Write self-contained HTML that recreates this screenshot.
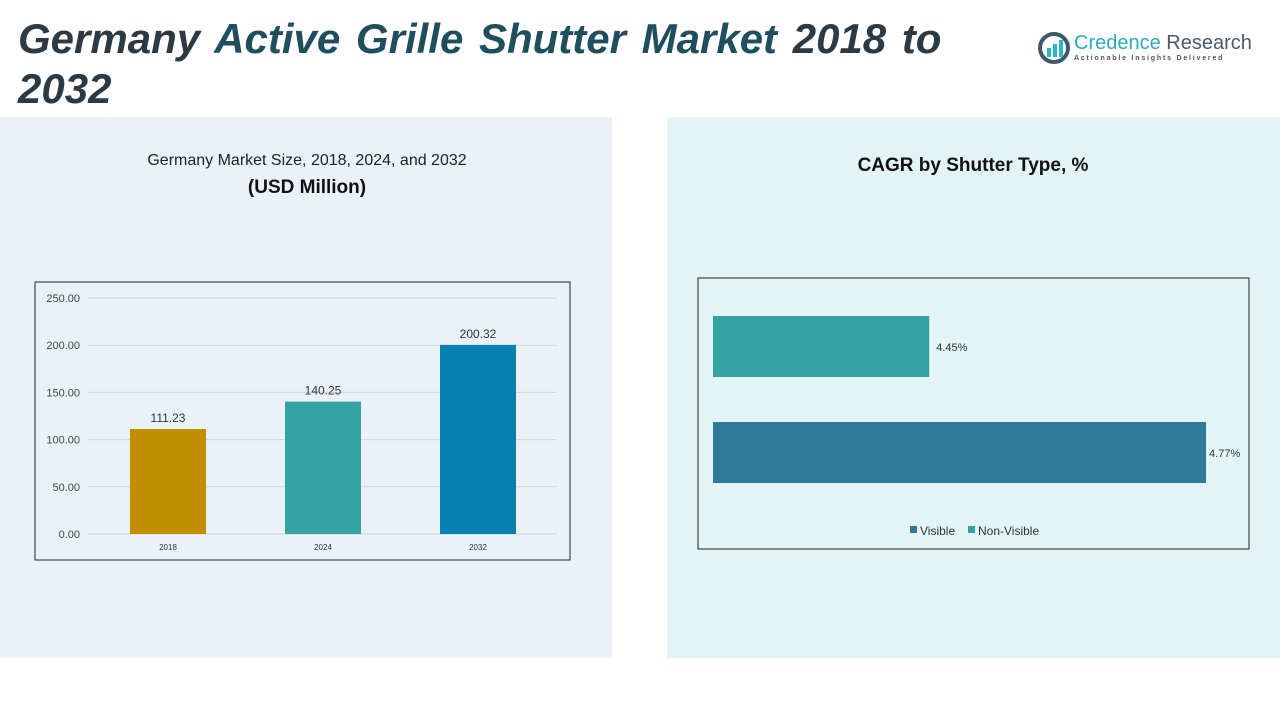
<!DOCTYPE html>
<html><head><meta charset="utf-8"><style>
body{margin:0;width:1280px;height:720px;background:#fff;position:relative;overflow:hidden;font-family:"Liberation Sans",sans-serif}
.abs{position:absolute}
</style></head><body>
<div class="abs" style="left:0;top:117px;width:612px;height:541px;background:#eaf2f8"></div>
<div class="abs" style="left:667px;top:117px;width:613px;height:541px;background:#e3f4f4"></div>
<div class="abs" style="left:18px;top:14px;width:980px;font-size:42px;font-weight:bold;font-style:italic;color:#2b3a44;line-height:50px;word-spacing:4px">Germany <span style="color:#1f4e5f">Active Grille Shutter Market</span> 2018 to 2032</div>
<div class="abs" style="left:1036px;top:30px;width:215px;height:40px">
<svg width="34" height="34" style="position:absolute;left:2px;top:2px"><circle cx="16" cy="16" r="14" fill="none" stroke="#3d5a6c" stroke-width="4"/><rect x="9" y="16" width="4" height="9" fill="#2fb5c8"/><rect x="15" y="12" width="4" height="13" fill="#2fb5c8"/><rect x="21" y="8" width="4" height="17" fill="#2fb5c8"/></svg>
<div class="abs" style="left:38px;top:2px;font-size:20px;color:#2fa9c0;white-space:nowrap">Credence <span style="color:#4a5a66">Research</span></div>
<div class="abs" style="left:38px;top:25px;font-size:7px;letter-spacing:1.8px;color:#555;white-space:nowrap;font-weight:bold">Actionable Insights Delivered</div>
</div>
<div class="abs" style="left:60px;top:152px;width:494px;text-align:center;font-size:16px;color:#222">Germany Market Size, 2018, 2024, and 2032</div>
<div class="abs" style="left:60px;top:177px;width:494px;text-align:center;font-size:19px;font-weight:bold;color:#111">(USD Million)</div>
<div class="abs" style="left:700px;top:155px;width:546px;text-align:center;font-size:19px;font-weight:bold;color:#111">CAGR by Shutter Type, %</div>
<svg class="abs" style="left:0;top:0" width="1280" height="720" id="svg">
<rect x="35" y="282" width="535" height="278" fill="none" stroke="#222" stroke-width="1"/>
<rect x="698" y="278" width="551" height="271" fill="none" stroke="#222" stroke-width="1"/>
<g id="g1"></g><g id="g2"></g>
</svg>
<script>
const years=["2018","2024","2032"];
const sizes=[111.23,140.25,200.32];
const colors=["#c08f00","#33a3a3","#0680b0"];
const yTicks=[0,50,100,150,200,250];
const types=["Non-Visible","Visible"];
const cagr=[4.45,4.77];
const tcolors=["#33a3a3","#2e7a9a"];
const NS="http://www.w3.org/2000/svg";
function mk(t,a,p){const e=document.createElementNS(NS,t);for(const k in a)e.setAttribute(k,a[k]);p.appendChild(e);return e;}
const g1=document.getElementById('g1');
const y=v=>534-v/250*236;
const xc=i=>168+i*155;
yTicks.forEach(t=>{
 const l=mk('line',{x1:88,x2:557,y1:y(t),y2:y(t),stroke:'#d0d6da'},g1);
 
 
 const tx=mk('text',{x:80,y:y(t)+4,'text-anchor':'end','font-size':11,fill:'#444'},g1);tx.textContent=t.toFixed(2);
 
 
});
years.forEach((yr,i)=>{
 const r=mk('rect',{x:xc(i)-38,y:y(sizes[i]),width:76,height:534-y(sizes[i]),fill:colors[i]},g1);
 
 
 const v=mk('text',{x:xc(i),y:y(sizes[i])-7,'text-anchor':'middle','font-size':12,fill:'#333'},g1);v.textContent=sizes[i].toFixed(2);
 
 
 const c=mk('text',{x:xc(i),y:550,'text-anchor':'middle','font-size':8,fill:'#333'},g1);c.textContent=yr;
 
 
});
const g2=document.getElementById('g2');
const xmin=4.2,xmax=4.8;
const xs=v=>713+(v-xmin)/(xmax-xmin)*519;
types.forEach((t,i)=>{
 const top=316+i*106;
 const r=mk('rect',{x:713,y:top,width:xs(cagr[i])-713,height:61,fill:tcolors[i]},g2);
 
 
 const v=mk('text',{x:xs(cagr[i])+(i?3:7),y:top+35,'font-size':11,fill:'#333'},g2);v.textContent=cagr[i].toFixed(2)+'%';
 
 
});
[["Visible","#2e7a9a",910],["Non-Visible","#33a3a3",968]].forEach(([n,c,x])=>{
 const s=mk('rect',{x:x,y:526,width:7,height:7,fill:c},g2);
 
 
 const t=mk('text',{x:x+10,y:535,'font-size':12,fill:'#333'},g2);t.textContent=n;
 
 
});
</script>
</body></html>
